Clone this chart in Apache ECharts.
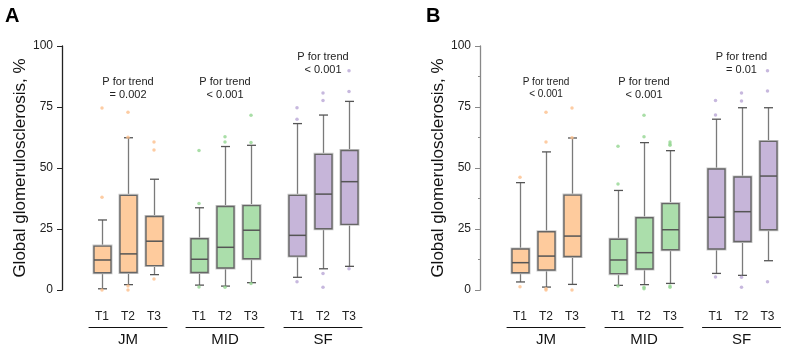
<!DOCTYPE html>
<html>
<head>
<meta charset="utf-8">
<script src="https://cdn.jsdelivr.net/npm/echarts@6/dist/echarts.min.js"></script>
<style>
  html, body { margin: 0; padding: 0; background: #fff; }
  #main { width: 787px; height: 352px; }
</style>
</head>
<body>
<div id="main"></div>
<script>
// categories
const groups = ['JM', 'MID', 'SF'];
const tertiles = ['T1', 'T2', 'T3'];
const yTicks = [0, 25, 50, 75, 100];

// box data: [min, Q1, median, Q3, max]
const aJM = [[0.5, 7.1, 12.3, 18.0, 28.7], [2.2, 7.2, 14.8, 38.8, 62.4], [6.3, 10.0, 20.0, 30.1, 45.4]];
const aMID = [[2.0, 7.2, 12.6, 21.0, 33.7], [1.6, 9.0, 17.5, 34.2, 58.8], [3.0, 12.8, 24.5, 34.6, 59.3]];
const aSF = [[5.2, 13.9, 22.4, 38.8, 68.2], [8.7, 25.1, 39.3, 55.6, 71.7], [9.7, 26.9, 44.4, 57.2, 77.3]];
const bJM = [[3.3, 7.1, 11.2, 16.8, 44.0], [1.2, 8.2, 13.9, 23.9, 56.6], [2.3, 13.7, 22.1, 38.9, 62.3]];
const bMID = [[1.9, 6.7, 12.3, 20.8, 40.8], [2.2, 8.6, 15.3, 29.6, 60.4], [2.7, 16.5, 24.7, 35.4, 57.1]];
const bSF = [[6.8, 16.8, 29.8, 49.6, 70.0], [6.0, 19.9, 32.1, 46.3, 74.7], [12.0, 24.7, 46.7, 60.9, 74.7]];

// outliers: [tertile, value]
const aJMOut = [['T1', 74.6], ['T1', 38.0], ['T1', 0], ['T2', 72.8], ['T2', 62.6], ['T2', 1.6], ['T2', 0], ['T3', 60.7], ['T3', 57.4], ['T3', 4.5]];
const aMIDOut = [['T1', 57.2], ['T1', 35.4], ['T1', 1.2], ['T2', 62.8], ['T2', 60.7], ['T2', 1.1], ['T3', 71.6], ['T3', 60.4], ['T3', 2.7]];
const aSFOut = [['T1', 74.7], ['T1', 70.0], ['T1', 3.4], ['T2', 80.7], ['T2', 77.7], ['T2', 6.8], ['T2', 1.1], ['T3', 89.9], ['T3', 81.4], ['T3', 8.7]];
const bJMOut = [['T1', 46.2], ['T1', 1.3], ['T2', 72.8], ['T2', 60.7], ['T2', 0.5], ['T2', 0], ['T3', 74.6], ['T3', 62.4], ['T3', 0]];
const bMIDOut = [['T1', 58.9], ['T1', 43.4], ['T1', 1.6], ['T2', 71.6], ['T2', 62.8], ['T2', 1.1], ['T2', 0.5], ['T3', 60.7], ['T3', 59.8], ['T3', 59.3], ['T3', 1.6], ['T3', 1.1]];
const bSFOut = [['T1', 77.7], ['T1', 71.7], ['T1', 5.3], ['T2', 80.7], ['T2', 77.5], ['T2', 5.2], ['T2', 1.1], ['T3', 89.9], ['T3', 81.6], ['T3', 3.4]];

// trend p-values
const pA = ['= 0.002', '< 0.001', '< 0.001'];
const pB = ['< 0.001', '< 0.001', '= 0.01'];
const pHeight = [82.6, 82.6, 92.8];

const fills = ['#fecb9d', '#abdeab', '#c6b5d9'];
const dots = ['#fdbf8c', '#93d691', '#b9a6d6'];
const font = 'Liberation Sans, Arial, sans-serif';

const panels = [
  { boxes: [aJM, aMID, aSF], outs: [aJMOut, aMIDOut, aSFOut], p: pA, lefts: [89, 186, 284], axisColor: '#222', minor: false, pSize: [11, 11, 11] },
  { boxes: [bJM, bMID, bSF], outs: [bJMOut, bMIDOut, bSFOut], p: pB, lefts: [507, 605, 702.5], axisColor: '#888', minor: true, pSize: [10, 11, 11] }
];

// box with half-width whisker caps
function renderBox(params, api) {
  const x = api.value(0);
  const p = [1, 2, 3, 4, 5].map(i => api.coord([x, api.value(i)]));
  const cx = Math.round(p[0][0]) + 0.5;
  const hw = 8.5, cap = 4.5;
  const fill = api.visual('color');
  const wStyle = { stroke: '#7a7a7a', lineWidth: 1.3 };
  return {
    type: 'group',
    children: [
      { type: 'line', shape: { x1: cx, y1: p[0][1], x2: cx, y2: p[1][1] }, style: wStyle },
      { type: 'line', shape: { x1: cx, y1: p[3][1], x2: cx, y2: p[4][1] }, style: wStyle },
      { type: 'line', shape: { x1: cx - cap, y1: p[0][1], x2: cx + cap, y2: p[0][1] }, style: { stroke: '#555', lineWidth: 1.3 } },
      { type: 'line', shape: { x1: cx - cap, y1: p[4][1], x2: cx + cap, y2: p[4][1] }, style: { stroke: '#555', lineWidth: 1.3 } },
      { type: 'rect', shape: { x: cx - hw, y: p[3][1], width: hw * 2, height: p[1][1] - p[3][1] },
        style: { fill: fill, stroke: '#c8c8c8', lineWidth: 3 } },
      { type: 'rect', shape: { x: cx - hw, y: p[3][1], width: hw * 2, height: p[1][1] - p[3][1] },
        style: { fill: fill, stroke: '#666', lineWidth: 1.4 } },
      { type: 'line', shape: { x1: cx - hw, y1: p[2][1], x2: cx + hw, y2: p[2][1] }, style: { stroke: '#555', lineWidth: 1.5 } }
    ]
  };
}

const grid = [], xAxis = [], yAxis = [], series = [];
panels.forEach((pn, pi) => {
  groups.forEach((g, gi) => {
    const idx = grid.length;
    grid.push({ left: pn.lefts[gi], width: 78, top: 46, height: 244 });
    xAxis.push({
      type: 'category', gridIndex: idx, data: tertiles,
      axisLine: { show: false }, axisTick: { show: false },
      axisLabel: { margin: 21, fontSize: 12, color: '#222', fontFamily: font }
    });
    xAxis.push({
      type: 'category', gridIndex: idx, data: [g], position: 'bottom', offset: 37,
      axisLine: { show: true, lineStyle: { color: '#111', width: 1 } }, axisTick: { show: false },
      axisLabel: { margin: 5, fontSize: 15, color: '#111', fontFamily: font }
    });
    const first = gi === 0;
    yAxis.push({
      type: 'value', gridIndex: idx, min: yTicks[0], max: yTicks[yTicks.length - 1], interval: 25,
      show: first, offset: 27,
      name: first ? 'Global glomerulosclerosis, %' : '',
      nameLocation: 'middle', nameGap: 21,
      nameTextStyle: { fontSize: 17, color: '#111', fontFamily: font },
      axisLine: { show: true, lineStyle: { color: pn.axisColor, width: 1.3 } },
      axisTick: { show: true, length: 5, lineStyle: { color: pn.axisColor } },
      minorTick: { show: pn.minor, splitNumber: 2, length: 2, lineStyle: { color: '#888' } },
      splitLine: { show: false },
      axisLabel: { fontSize: 12, color: '#222', margin: 9, fontFamily: font }
    });
    series.push({
      type: 'custom', xAxisIndex: idx * 2, yAxisIndex: idx,
      data: pn.boxes[gi].map((b, i) => [i].concat(b)),
      encode: { x: 0, y: [1, 2, 3, 4, 5] },
      itemStyle: { color: fills[gi] },
      renderItem: renderBox
    });
    series.push({
      type: 'scatter', xAxisIndex: idx * 2, yAxisIndex: idx,
      data: pn.outs[gi], symbolSize: 3.5,
      itemStyle: { color: dots[gi] },
      markPoint: {
        symbol: 'circle', symbolSize: 0,
        label: {
          show: true, position: 'inside', color: '#222', fontFamily: font,
          fontSize: pn.pSize[gi], lineHeight: pn.pSize[gi] + 2,
          formatter: 'P for trend\n' + pn.p[gi]
        },
        data: [{ coord: ['T2', pHeight[gi]] }]
      }
    });
  });
});

const chart = echarts.init(document.getElementById('main'));
chart.setOption({
  animation: false,
  backgroundColor: '#fff',
  textStyle: { fontFamily: font },
  title: [
    { text: 'A', left: 0, top: 1, textStyle: { fontSize: 20, fontWeight: 'bold', color: '#000', fontFamily: font } },
    { text: 'B', left: 421, top: 1, textStyle: { fontSize: 20, fontWeight: 'bold', color: '#000', fontFamily: font } }
  ],
  grid, xAxis, yAxis, series
});
</script>
</body>
</html>
